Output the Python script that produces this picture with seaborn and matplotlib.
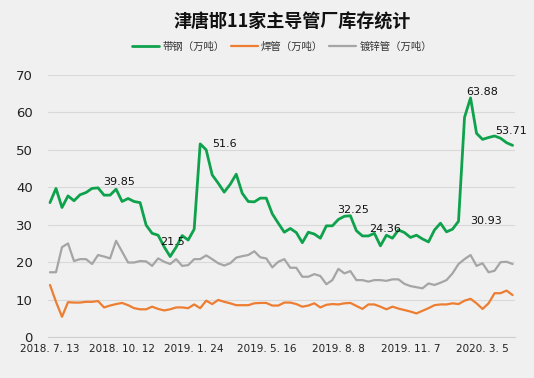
import numpy as np
import pandas as pd
import matplotlib
matplotlib.use("Agg")
import matplotlib.pyplot as plt
import seaborn as sns

# --- Data (weekly inventory, 万吨) ---
strip_steel = [35.9, 39.7, 34.6, 37.7, 36.4, 38.0, 38.6, 39.7, 39.85, 37.9,
               37.9, 39.5, 36.2, 37.0, 36.2, 35.9, 29.9, 27.7, 27.2, 24.1,
               21.5, 24.0, 27.1, 25.9, 28.8, 51.6, 50.0, 43.3, 41.1, 38.7,
               40.8, 43.5, 38.4, 36.2, 36.1, 37.1, 37.1, 32.9, 30.4, 28.0,
               29.0, 27.9, 25.2, 28.0, 27.5, 26.4, 29.7, 29.7, 31.4, 32.25,
               32.4, 28.4, 27.0, 27.0, 27.7, 24.36, 27.2, 26.4, 28.6, 27.9,
               26.6, 27.2, 26.2, 25.4, 28.6, 30.4, 28.1, 28.8, 30.93, 58.7,
               63.88, 54.4, 52.8, 53.3, 53.71, 53.1, 51.9, 51.2]
welded_pipe = [13.9, 9.4, 5.4, 9.3, 9.2, 9.2, 9.4, 9.4, 9.6, 7.9,
               8.4, 8.8, 9.1, 8.5, 7.7, 7.4, 7.4, 8.1, 7.5, 7.1,
               7.4, 7.9, 7.9, 7.7, 8.7, 7.7, 9.7, 8.8, 9.9, 9.4,
               9.0, 8.5, 8.5, 8.5, 9.0, 9.1, 9.1, 8.4, 8.4, 9.2,
               9.2, 8.8, 8.1, 8.4, 9.0, 7.9, 8.6, 8.8, 8.7, 9.0,
               9.1, 8.3, 7.5, 8.7, 8.7, 8.1, 7.4, 8.1, 7.6, 7.2,
               6.8, 6.3, 7.0, 7.7, 8.5, 8.7, 8.7, 9.0, 8.8, 9.7,
               10.2, 9.0, 7.5, 9.0, 11.7, 11.7, 12.4, 11.2]
galv_pipe = [17.3, 17.3, 24.0, 25.0, 20.3, 20.8, 20.8, 19.5, 21.9, 21.5,
             21.0, 25.7, 22.8, 19.9, 19.9, 20.3, 20.2, 19.0, 21.0, 20.1,
             19.5, 20.8, 19.0, 19.2, 20.8, 20.8, 21.8, 20.8, 19.7, 19.1,
             19.7, 21.2, 21.6, 21.9, 22.9, 21.3, 21.0, 18.6, 20.1, 20.8,
             18.5, 18.5, 16.1, 16.1, 16.8, 16.3, 14.1, 15.2, 18.2, 17.0,
             17.6, 15.2, 15.2, 14.8, 15.2, 15.2, 15.0, 15.4, 15.4, 14.2,
             13.6, 13.3, 13.0, 14.3, 13.9, 14.5, 15.2, 17.0, 19.5, 20.8,
             21.9, 19.0, 19.7, 17.3, 17.7, 20.0, 20.1, 19.5]

series_names = ["带钢（万吨）", "焊管（万吨）", "镀锌管（万吨）"]
tick_labels = ["2018. 7. 13", "2018. 10. 12", "2019. 1. 24", "2019. 5. 16",
               "2019. 8. 8", "2019. 11. 7", "2020. 3. 5"]
tick_index = [0, 12, 24, 36, 48, 60, 72]
label_index = [8, 20, 25, 49, 55, 68, 70, 74]   # labelled points on 带钢

# label offsets in points (position only)
label_offsets = [(15, 4), (2, 10.5), (17.5, 0), (6.5, 4.5),
                 (3, 12), (19.5, 0), (8.5, 4.3), (12, 3.6)]

colors = ["#0fa24c", "#ed7d31", "#a5a5a5"]
widths = [2.0, 1.6, 1.6]

df = pd.DataFrame({
    "idx": np.arange(len(strip_steel)),
    series_names[0]: strip_steel,
    series_names[1]: welded_pipe,
    series_names[2]: galv_pipe,
})

# --- Plot ---
sns.set_theme(style="white")
plt.rcParams["font.family"] = ["Noto Sans CJK SC", "DejaVu Sans"]

bg = "#f0f0f0"
fig = plt.figure(figsize=(5.34, 3.78), dpi=100, facecolor=bg)
ax = fig.add_axes([48 / 534, 1 - 337 / 378, (515 - 48) / 534, (337 - 75) / 378])
ax.set_facecolor(bg)

for name, c, lw in zip(series_names, colors, widths):
    sns.lineplot(data=df, x="idx", y=name, color=c, linewidth=lw, ax=ax, label=name, legend=False)

# data labels
for i, (dx, dy) in zip(label_index, label_offsets):
    v = strip_steel[i]
    ax.annotate(f"{v:g}", (i, v), xytext=(dx, dy), textcoords="offset points",
                ha="center", va="center", fontsize=8, family="DejaVu Sans", color="#111111")

ax.set_ylim(0, 70)
ax.set_xlim(-0.33, 77.4)
ax.set_yticks(range(0, 71, 10))
ax.yaxis.grid(True, color="#d9d9d9", linewidth=0.8)
ax.set_axisbelow(True)
for s in ["top", "right", "left"]:
    ax.spines[s].set_visible(False)
ax.spines["bottom"].set_color("#cfcfcf")
ax.spines["bottom"].set_linewidth(0.8)

ax.set_xticks(tick_index)
ax.set_xticklabels(tick_labels, family="DejaVu Sans")
ax.set_xticks(np.arange(len(strip_steel)), minor=True)
ax.tick_params(axis="x", which="both", direction="in", length=4, color="#bfbfbf",
               width=0.7, pad=5, labelsize=7.5, labelcolor="#222222")
ax.tick_params(axis="y", length=0, pad=11, labelsize=9.5, labelcolor="#222222")
for t in ax.get_yticklabels():
    t.set_family("DejaVu Sans")
ax.set_xlabel("")
ax.set_ylabel("")

fig.text(292 / 534, 1 - 22 / 378, "津唐邯11家主导管厂库存统计", ha="center", va="center",
         fontsize=13, fontweight="bold", color="#111111")

handles, labels = ax.get_legend_handles_labels()
fig.legend(handles, labels, loc="center", bbox_to_anchor=(282 / 534, 1 - 47 / 378),
           ncol=3, frameon=False, fontsize=7.5, handlelength=2.6, handletextpad=0.3,
           columnspacing=0.6, labelcolor="#333333")

fig.savefig("out.png", dpi=100, facecolor=bg)
